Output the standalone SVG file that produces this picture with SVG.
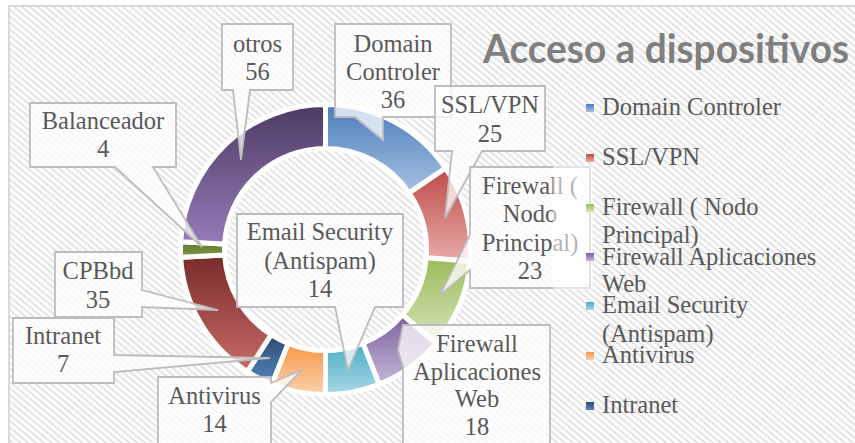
<svg xmlns="http://www.w3.org/2000/svg" width="855" height="443" viewBox="0 0 855 443">
  <defs>
    <pattern id="hatch" patternUnits="userSpaceOnUse" width="5" height="5" patternTransform="rotate(40)">
      <rect width="5" height="5" fill="#ffffff"/>
      <rect width="5" height="2.2" fill="#e4e4e4"/>
    </pattern>
    <linearGradient id="g-dc" x1="0" y1="0" x2="0" y2="1"><stop offset="0" stop-color="#4a7ebb"/><stop offset="1" stop-color="#a7c1e2"/></linearGradient>
    <linearGradient id="g-ssl" x1="0" y1="0" x2="0" y2="1"><stop offset="0" stop-color="#be4b48"/><stop offset="1" stop-color="#e8aaa8"/></linearGradient>
    <linearGradient id="g-fwn" x1="0" y1="0" x2="0" y2="1"><stop offset="0" stop-color="#9bbb59"/><stop offset="1" stop-color="#d6e4bb"/></linearGradient>
    <linearGradient id="g-fwa" x1="0" y1="0" x2="0" y2="1"><stop offset="0" stop-color="#7d60a0"/><stop offset="1" stop-color="#c4b7d6"/></linearGradient>
    <linearGradient id="g-em" x1="0" y1="0" x2="0" y2="1"><stop offset="0" stop-color="#4bacc6"/><stop offset="1" stop-color="#a9d8e6"/></linearGradient>
    <linearGradient id="g-av" x1="0" y1="0" x2="0" y2="1"><stop offset="0" stop-color="#f79646"/><stop offset="1" stop-color="#fcd2ae"/></linearGradient>
    <linearGradient id="g-in" x1="0" y1="0" x2="0" y2="1"><stop offset="0" stop-color="#2c4d75"/><stop offset="1" stop-color="#5583bd"/></linearGradient>
    <linearGradient id="g-cp" x1="0" y1="0" x2="0" y2="1"><stop offset="0" stop-color="#772c2a"/><stop offset="1" stop-color="#c96a67"/></linearGradient>
    <linearGradient id="g-ba" x1="0" y1="0" x2="0" y2="1"><stop offset="0" stop-color="#5f7530"/><stop offset="1" stop-color="#7f9b45"/></linearGradient>
    <linearGradient id="g-ot" x1="0" y1="0" x2="0" y2="1"><stop offset="0" stop-color="#4d3b62"/><stop offset="1" stop-color="#957bb9"/></linearGradient>
  </defs>
  <style>
    .slice { stroke: #ffffff; stroke-width: 5; stroke-linejoin: miter; }
    .box { fill: #ffffff; fill-opacity: 0.75; stroke: #bdbdbd; stroke-width: 1.8; stroke-linejoin: miter; }
    .lbl { font-family: "Liberation Serif", "Times New Roman", serif; font-size: 24.5px; fill: #595959; text-anchor: middle; }
    .leg { font-family: "Liberation Serif", "Times New Roman", serif; font-size: 24.5px; fill: #595959; }
    .title { font-family: Lato, "Liberation Sans", sans-serif; font-weight: bold; font-size: 40px; fill: #7f7f7f; }
  </style>

  <!-- chart area -->
  <rect x="0" y="0" width="855" height="443" fill="#ffffff"/>
  <rect x="9" y="6" width="860" height="450" fill="url(#hatch)" stroke="#d9d9d9" stroke-width="2"/>

  <text class="title" x="483" y="63" textLength="366" lengthAdjust="spacingAndGlyphs">Acceso a dispositivos</text>

  <!-- doughnut slices, clockwise from top -->
  <g id="slices">
    <path id="slice-domain" class="slice" fill="url(#g-dc)" d="M325.5,104.5 A145,145 0 0 1 445.52,168.13 L409.10,192.82 A101,101 0 0 0 325.5,148.5 Z"/>
    <path id="slice-ssl" class="slice" fill="url(#g-ssl)" d="M445.52,168.13 A145,145 0 0 1 470.02,261.27 L426.17,257.70 A101,101 0 0 0 409.10,192.82 Z"/>
    <path id="slice-fw-nodo" class="slice" fill="url(#g-fwn)" d="M470.02,261.27 A145,145 0 0 1 436.01,343.37 L402.48,314.89 A101,101 0 0 0 426.17,257.70 Z"/>
    <path id="slice-fw-web" class="slice" fill="url(#g-fwa)" d="M436.01,343.37 A145,145 0 0 1 379.17,384.20 L362.88,343.33 A101,101 0 0 0 402.48,314.89 Z"/>
    <path id="slice-email" class="slice" fill="url(#g-em)" d="M379.17,384.20 A145,145 0 0 1 325.5,394.5 L325.5,350.5 A101,101 0 0 0 362.88,343.33 Z"/>
    <path id="slice-antivirus" class="slice" fill="url(#g-av)" d="M325.5,394.5 A145,145 0 0 1 271.83,384.20 L288.12,343.33 A101,101 0 0 0 325.5,350.5 Z"/>
    <path id="slice-intranet" class="slice" fill="url(#g-in)" d="M271.83,384.20 A145,145 0 0 1 247.41,371.67 L271.10,334.60 A101,101 0 0 0 288.12,343.33 Z"/>
    <path id="slice-cpbbd" class="slice" fill="url(#g-cp)" d="M247.41,371.67 A145,145 0 0 1 180.71,257.35 L224.65,254.97 A101,101 0 0 0 271.10,334.60 Z"/>
    <path id="slice-balanceador" class="slice" fill="url(#g-ba)" d="M180.71,257.35 A145,145 0 0 1 180.71,241.65 L224.65,244.03 A101,101 0 0 0 224.65,254.97 Z"/>
    <path id="slice-otros" class="slice" fill="url(#g-ot)" d="M180.71,241.65 A145,145 0 0 1 325.5,104.5 L325.5,148.5 A101,101 0 0 0 224.65,244.03 Z"/>
  </g>

  <!-- data label callouts (box + pointer drawn as one outline) -->
  <g id="connectors">
    <g id="label-domain">
      <path class="box" d="M335,24 H451 V117 H383 V140 L355,117 H335 Z"/>
      <text class="lbl" x="393" y="52">Domain</text>
      <text class="lbl" x="393" y="80">Controler</text>
      <text class="lbl" x="393" y="108">36</text>
    </g>
    <g id="label-ssl">
      <path class="box" d="M435,86 H545 V151 H482 L445,218 L452,151 H435 Z"/>
      <text class="lbl" x="490" y="113">SSL/VPN</text>
      <text class="lbl" x="490" y="142">25</text>
    </g>
    <g id="label-fw-nodo">
      <path class="box" d="M470,167 H590 V288 H470 V270 L440,295 L470,235 Z"/>
      <text class="lbl" x="530" y="193.5">Firewall (</text>
      <text class="lbl" x="530" y="222">Nodo</text>
      <text class="lbl" x="530" y="250.5">Principal)</text>
      <text class="lbl" x="530" y="279">23</text>
    </g>
    <g id="label-fw-web">
      <path class="box" d="M403,325 H550 V452 H403 V367 L398,350 Z"/>
      <text class="lbl" x="477" y="352">Firewall</text>
      <text class="lbl" x="477" y="380">Aplicaciones</text>
      <text class="lbl" x="477" y="407">Web</text>
      <text class="lbl" x="477" y="435">18</text>
    </g>
    <g id="label-email">
      <path class="box" d="M237,214 H403 V307 H375 L348,370 L335,307 H237 Z"/>
      <text class="lbl" x="320" y="240">Email Security</text>
      <text class="lbl" x="320" y="268.5">(Antispam)</text>
      <text class="lbl" x="320" y="297">14</text>
    </g>
    <g id="label-antivirus">
      <path class="box" d="M158,377 H271 V383 L302,370 L271,402 V452 H158 Z"/>
      <text class="lbl" x="214.5" y="404">Antivirus</text>
      <text class="lbl" x="214.5" y="432">14</text>
    </g>
    <g id="label-intranet">
      <path class="box" d="M13,318 H114 V355 L270,358 L114,372 V383 H13 Z"/>
      <text class="lbl" x="63" y="344">Intranet</text>
      <text class="lbl" x="63" y="372">7</text>
    </g>
    <g id="label-cpbbd">
      <path class="box" d="M55,252 H142 V290 L218,310 L142,307 V317 H55 Z"/>
      <text class="lbl" x="98" y="279">CPBbd</text>
      <text class="lbl" x="98" y="308">35</text>
    </g>
    <g id="label-balanceador">
      <path class="box" d="M30,103 H176 V167 H153 L202,247 L115,167 H30 Z"/>
      <text class="lbl" x="103" y="129">Balanceador</text>
      <text class="lbl" x="103" y="157">4</text>
    </g>
    <g id="label-otros">
      <path class="box" d="M222,24 H293 V90 H250 L241,160 L233,90 H222 Z"/>
      <text class="lbl" x="257.5" y="52">otros</text>
      <text class="lbl" x="257.5" y="80">56</text>
    </g>
  </g>

  <!-- legend area (slightly veils what lies beneath it) -->
  <g id="legend">
    <rect x="553" y="165" width="40" height="125" fill="#ffffff" fill-opacity="0.55"/>
    <rect x="586" y="104" width="8" height="8" fill="url(#g-dc)"/>
    <text class="leg" x="602" y="115">Domain Controler</text>
    <rect x="586" y="154" width="8" height="8" fill="url(#g-ssl)"/>
    <text class="leg" x="602" y="165">SSL/VPN</text>
    <rect x="586" y="204" width="8" height="8" fill="url(#g-fwn)"/>
    <text class="leg" x="602" y="215">Firewall ( Nodo</text>
    <text class="leg" x="602" y="243">Principal)</text>
    <rect x="586" y="253" width="8" height="8" fill="url(#g-fwa)"/>
    <text class="leg" x="602" y="265">Firewall Aplicaciones</text>
    <text class="leg" x="602" y="292">Web</text>
    <rect x="586" y="302" width="8" height="8" fill="url(#g-em)"/>
    <text class="leg" x="602" y="313">Email Security</text>
    <text class="leg" x="602" y="341.5">(Antispam)</text>
    <rect x="586" y="352" width="8" height="8" fill="url(#g-av)"/>
    <text class="leg" x="602" y="363">Antivirus</text>
    <rect x="586" y="402" width="8" height="8" fill="url(#g-in)"/>
    <text class="leg" x="602" y="413">Intranet</text>
  </g>
</svg>
